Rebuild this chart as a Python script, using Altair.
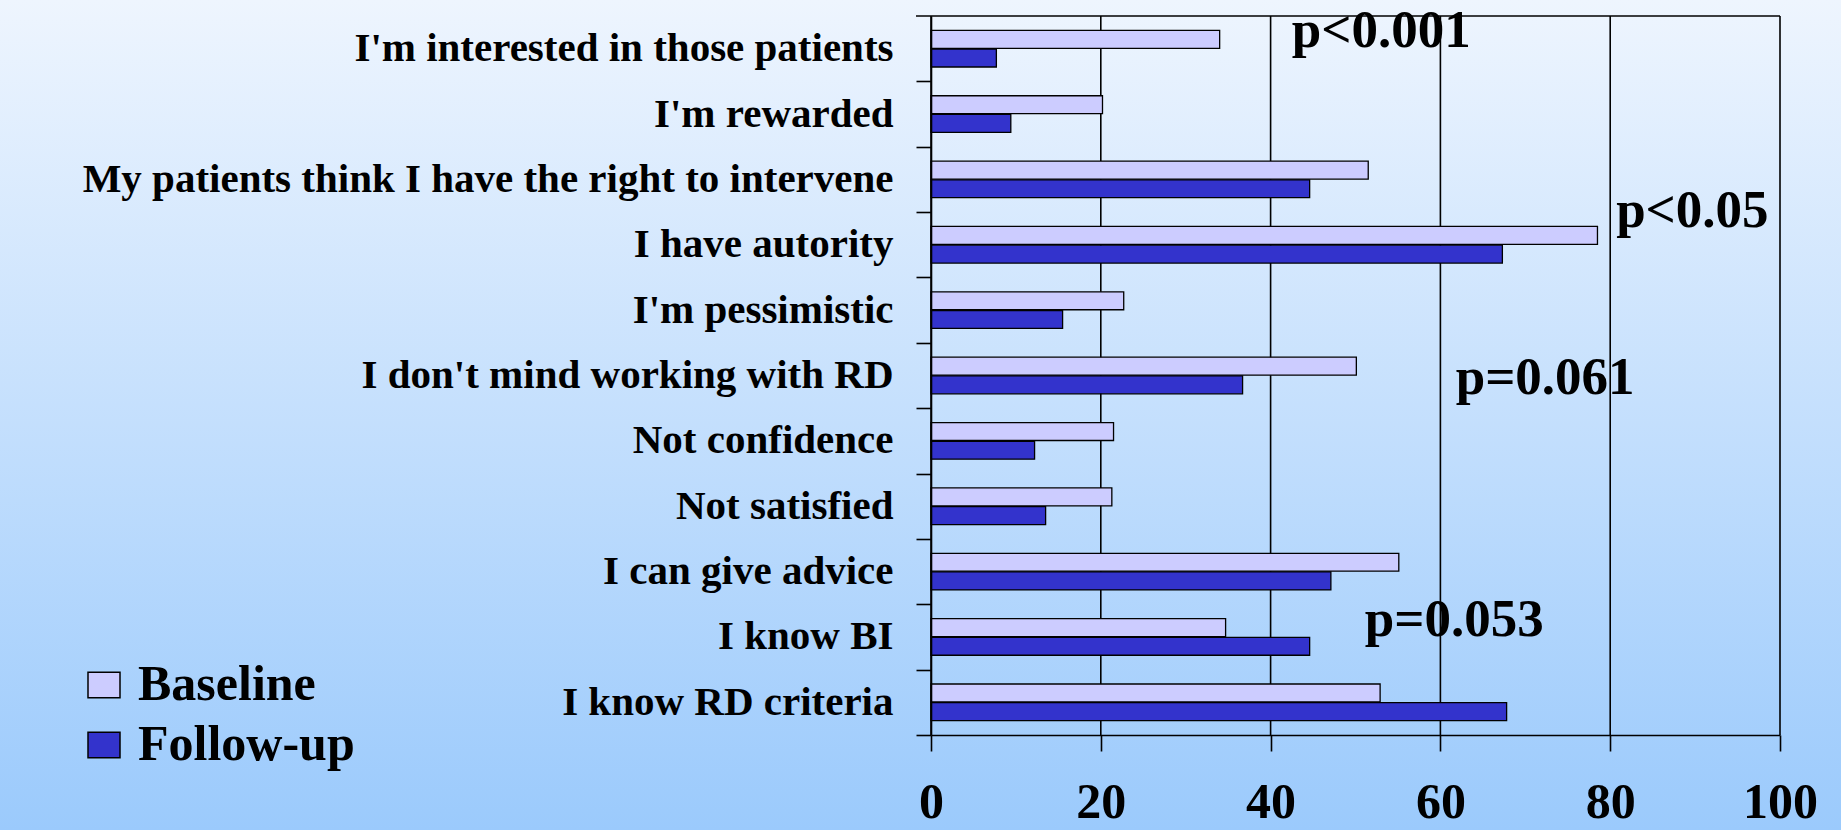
import altair as alt
import pandas as pd

# Survey statements, top to bottom
statements = [
    "I'm interested in those patients",
    "I'm rewarded\u00a0",
    "My patients think I have the right to intervene",
    "I have autority",
    "I'm pessimistic",
    "I don't mind working with RD",
    "Not confidence",
    "Not satisfied",
    "I can give advice",
    "I know BI",
    "I know RD criteria",
]
baseline = [34.0, 20.2, 51.5, 78.5, 22.7, 50.1, 21.5, 21.3, 55.1, 34.7, 52.9]
follow_up = [7.7, 9.4, 44.6, 67.3, 15.5, 36.7, 12.2, 13.5, 47.1, 44.6, 67.8]

series = ["Baseline", "Follow-up"]
series_colors = ["#CCCCFF", "#3333CC"]
x_ticks = [0, 20, 40, 60, 80, 100]

# Significance notes: text, row they sit on, left x (in %), vertical nudge
p_labels = ["p<0.001", "p<0.05", "p=0.061", "p=0.053"]
p_rows = [statements[0], statements[3], statements[5], statements[9]]
p_x = [42.5, 80.7, 61.8, 51.1]
p_dy = [-1.4, -17.5, 18.0, -0.6]

FONT = "Liberation Serif"
W, H = 849, 719
PAD_L, PAD_T, PAD_R, PAD_B = 931, 16, 61, 95
STEP = H / len(statements)

df = pd.DataFrame(
    {
        "statement": statements * 2,
        "series": [series[0]] * len(statements) + [series[1]] * len(statements),
        "value": baseline + follow_up,
    }
)

x_scale = alt.Scale(domain=[0, 100], nice=False)
y_scale = alt.Scale(paddingInner=0.44, paddingOuter=0.22)

# Page background: soft vertical blue gradient behind everything
background = (
    alt.Chart(pd.DataFrame({"k": [0]}))
    .mark_rect(
        color=alt.Gradient(
            gradient="linear",
            x1=0, x2=0, y1=0, y2=1,
            stops=[
                alt.GradientStop(offset=0, color="#EEF5FE"),
                alt.GradientStop(offset=1, color="#9BCAFC"),
            ],
        )
    )
    .encode(
        x=alt.value(-PAD_L),
        x2=alt.value(W + PAD_R),
        y=alt.value(-PAD_T),
        y2=alt.value(H + PAD_B),
    )
)

# Vertical gridlines behind the bars
grid = (
    alt.Chart(pd.DataFrame({"tick": x_ticks}))
    .mark_rule(color="black", strokeWidth=1.6)
    .encode(
        x=alt.X("tick:Q", scale=x_scale),
        y=alt.value(0),
        y2=alt.value(H),
    )
)

# Top edge of the plot frame, including the first category tick
top_edge = (
    alt.Chart(pd.DataFrame({"k": [0]}))
    .mark_rule(color="black", strokeWidth=1.6)
    .encode(x=alt.value(-15), x2=alt.value(W), y=alt.value(0))
)

bars = (
    alt.Chart(df)
    .mark_bar(stroke="black", strokeWidth=1.3)
    .encode(
        x=alt.X(
            "value:Q",
            scale=x_scale,
            axis=alt.Axis(
                title=None,
                values=x_ticks,
                grid=False,
                zindex=1,
                domainColor="black",
                domainWidth=1.6,
                tickColor="black",
                tickWidth=1.6,
                tickSize=16,
                labelFont=FONT,
                labelFontWeight="bold",
                labelFontSize=50,
                labelColor="black",
                labelPadding=26,
                labelFlush=False,
            ),
        ),
        y=alt.Y(
            "statement:N",
            sort=statements,
            scale=y_scale,
            axis=alt.Axis(
                title=None,
                zindex=1,
                tickOffset=STEP / 2,
                labelOffset=-STEP / 2,
                domainColor="black",
                domainWidth=1.6,
                tickColor="black",
                tickWidth=1.6,
                tickSize=15,
                labelFont=FONT,
                labelFontWeight="bold",
                labelFontSize=41,
                labelColor="black",
                labelPadding=23,
                labelLimit=2000,
            ),
        ),
        yOffset=alt.YOffset("series:N", sort=series, scale=alt.Scale(paddingInner=0.04)),
        color=alt.Color(
            "series:N",
            sort=series,
            scale=alt.Scale(domain=series, range=series_colors),
            legend=alt.Legend(
                title=None,
                orient="none",
                legendX=-852,
                legendY=644,
                direction="vertical",
                zindex=1,
                padding=0,
                symbolType="M-1,-0.8H1V0.8H-1Z",
                symbolSize=1024,
                symbolStrokeColor="black",
                symbolStrokeWidth=1.5,
                symbolOpacity=1,
                labelFont=FONT,
                labelFontWeight="bold",
                labelFontSize=50,
                labelColor="black",
                labelOffset=9,
                rowPadding=10,
                labelLimit=1000,
            ),
        ),
    )
)

notes = []
for label, row, px, dy in zip(p_labels, p_rows, p_x, p_dy):
    notes.append(
        alt.Chart(pd.DataFrame({"statement": [row], "x": [px], "label": [label]}))
        .mark_text(
            align="left",
            baseline="alphabetic",
            dy=dy,
            font=FONT,
            fontWeight="bold",
            fontSize=53,
            color="black",
        )
        .encode(
            x=alt.X("x:Q", scale=x_scale),
            y=alt.Y("statement:N", sort=statements, scale=y_scale),
            text="label:N",
        )
    )

chart = (
    alt.layer(background, grid, top_edge, bars, *notes)
    .properties(
        width=W,
        height=H,
        autosize=alt.AutoSizeParams(type="none"),
        padding={"left": PAD_L, "top": PAD_T, "right": PAD_R, "bottom": PAD_B},
        background="#9BCAFC",
    )
    .configure_view(stroke=None)
)

chart.save("out.html", embed_options={"renderer": "svg", "actions": False})
